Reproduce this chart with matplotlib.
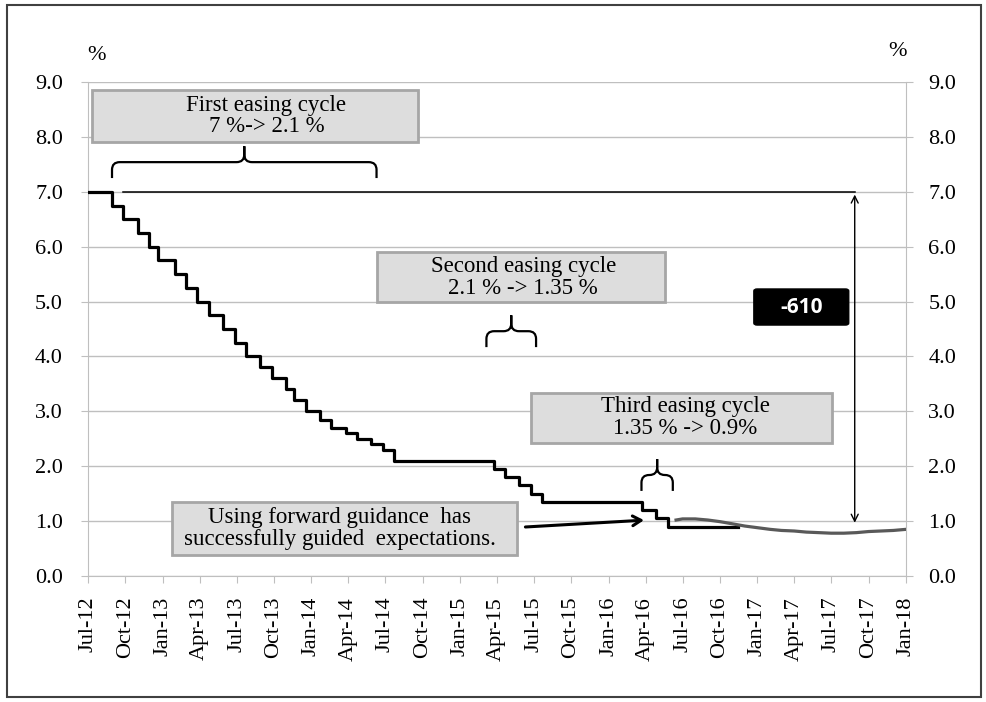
import matplotlib
matplotlib.use("Agg")
import matplotlib.pyplot as plt
import matplotlib.dates as mdates
from matplotlib.patches import Rectangle, FancyBboxPatch, PathPatch
from matplotlib.path import Path
import pandas as pd

# base rate decisions: date the new rate applies, rate in %
rate_dates = ["2012-07-01", "2012-08-29", "2012-09-26", "2012-10-31", "2012-11-28", "2012-12-19",
              "2013-01-30", "2013-02-27", "2013-03-27", "2013-04-24", "2013-05-29", "2013-06-26",
              "2013-07-24", "2013-08-28", "2013-09-25", "2013-10-30", "2013-11-20", "2013-12-18",
              "2014-01-22", "2014-02-19", "2014-03-26", "2014-04-23", "2014-05-28", "2014-06-25",
              "2014-07-23", "2015-03-25", "2015-04-22", "2015-05-27", "2015-06-24", "2015-07-22",
              "2016-03-23", "2016-04-27", "2016-05-25", "2016-11-15"]
base_rate = [7.0, 6.75, 6.5, 6.25, 6.0, 5.75,
             5.5, 5.25, 5.0, 4.75, 4.5, 4.25,
             4.0, 3.8, 3.6, 3.4, 3.2, 3.0,
             2.85, 2.7, 2.6, 2.5, 2.4, 2.3,
             2.1, 1.95, 1.8, 1.65, 1.5, 1.35,
             1.2, 1.05, 0.9, 0.9]

# market expectations (grey line)
exp_dates = ["2016-06-15", "2016-07-01", "2016-08-01", "2016-09-01", "2016-10-01", "2016-11-01",
             "2016-12-01", "2017-01-01", "2017-02-01", "2017-03-01", "2017-04-01", "2017-05-01",
             "2017-06-01", "2017-07-01", "2017-08-01", "2017-09-01", "2017-10-01", "2017-11-01",
             "2017-12-01", "2018-01-01"]
exp_rate = [1.02, 1.04, 1.04, 1.02, 0.99, 0.95,
            0.91, 0.88, 0.85, 0.83, 0.82, 0.80,
            0.79, 0.78, 0.78, 0.79, 0.81, 0.82,
            0.83, 0.85]

start_level = 7.0
end_level = 0.92
ref_start, ref_end = "2012-09-25", "2017-08-28"

y_ticks = [0, 1, 2, 3, 4, 5, 6, 7, 8, 9]

serif = "Liberation Serif"
plt.rcParams["font.family"] = serif
grid_c = "#bfbfbf"


def d(s):
    return mdates.date2num(pd.Timestamp(s))


def brace(ax, x0, x1, y_bar, h=0.29, rx=19, ry=0.14):
    # brace opening downward, cusp at the middle pointing up
    x0, x1 = d(x0), d(x1)
    xm = (x0 + x1) / 2
    verts, codes = [], []
    for xe, sgn in ((x0, 1), (x1, -1)):
        verts += [(xe, y_bar - h), (xe, y_bar - ry), (xe, y_bar), (xe + sgn * rx, y_bar),
                  (xm - sgn * rx, y_bar), (xm, y_bar), (xm, y_bar + ry), (xm, y_bar + h)]
        codes += [Path.MOVETO, Path.LINETO, Path.CURVE3, Path.CURVE3,
                  Path.LINETO, Path.CURVE3, Path.CURVE3, Path.LINETO]
    ax.add_patch(PathPatch(Path(verts, codes), fill=False, ec="black", lw=1.6,
                           clip_on=False, zorder=5))


def note(ax, x0, y0, x1, y1, tx, ty, s):
    ax.add_patch(Rectangle((x0, y0), x1 - x0, y1 - y0, transform=ax.transAxes,
                           fc="#dddddd", ec="#a6a6a6", lw=2, clip_on=False, zorder=6))
    ax.text(tx, ty, s, transform=ax.transAxes, ha="center", va="center",
            fontsize=16.5, linespacing=1.05, zorder=7)


fig = plt.figure(figsize=(9.87, 7.02), dpi=100)
ax = fig.add_axes([88 / 987, 1 - 576 / 702, 818 / 987, 494 / 702])

ax.step(pd.to_datetime(rate_dates), base_rate, where="post", color="black", lw=2.3, zorder=4)
ax.plot(pd.to_datetime(exp_dates), exp_rate, color="#595959", lw=2.3, zorder=4)
ax.plot(pd.to_datetime([ref_start, ref_end]), [start_level, start_level], color="black", lw=1.1, zorder=4)

ax.set_xlim(d("2012-07-01"), d("2018-01-01"))
ax.set_ylim(0, 9)
ax.set_yticks(y_ticks)
ax.yaxis.set_major_formatter(plt.FormatStrFormatter("%.1f"))
ax.xaxis.set_major_locator(mdates.MonthLocator(bymonth=[1, 4, 7, 10]))
ax.xaxis.set_major_formatter(mdates.DateFormatter("%b-%y"))
ax.tick_params(axis="x", rotation=90, labelsize=16, length=5, pad=10, color=grid_c)
ax.tick_params(axis="y", labelsize=16, length=5, pad=13, color=grid_c)
ax.yaxis.grid(True, color=grid_c, lw=1)
ax.set_axisbelow(True)
for side in ["left", "right", "bottom"]:
    ax.spines[side].set_color(grid_c)
ax.spines["top"].set_visible(False)

ax2 = ax.twinx()
ax2.set_ylim(0, 9)
ax2.set_yticks(y_ticks)
ax2.yaxis.set_major_formatter(plt.FormatStrFormatter("%.1f"))
ax2.tick_params(axis="y", labelsize=16, length=5, pad=11, color=grid_c)
for side in ["left", "right", "bottom", "top"]:
    ax2.spines[side].set_visible(False)

fig.text(97 / 987, 1 - 55 / 702, "%", fontsize=16, ha="center", va="center")
fig.text(898 / 987, 1 - 52 / 702, "%", fontsize=16, ha="center", va="center")

# braces over each easing cycle
brace(ax, "2012-08-29", "2014-06-10", 7.54)
brace(ax, "2015-03-07", "2015-07-07", 4.46)
brace(ax, "2016-03-22", "2016-06-07", 1.84)

# annotation boxes
note(ax, 0.005, 0.879, 0.403, 0.984, 0.218, 0.931, "First easing cycle\n7 %-> 2.1 %")
note(ax, 0.353, 0.555, 0.705, 0.656, 0.532, 0.605, "Second easing cycle\n2.1 % -> 1.35 %")
note(ax, 0.542, 0.269, 0.910, 0.370, 0.730, 0.321, "Third easing cycle\n1.35 % -> 0.9%")
note(ax, 0.103, 0.043, 0.524, 0.150, 0.308, 0.096,
     "Using forward guidance  has\nsuccessfully guided  expectations.")

ax.annotate("", xy=(d("2016-04-04"), 1.02), xytext=(d("2015-06-04"), 0.89),
            arrowprops=dict(arrowstyle="->,head_length=0.6,head_width=0.35", color="black", lw=2.2),
            zorder=6)

# total change arrow and label
ax.annotate("", xy=(d(ref_end), end_level), xytext=(d(ref_end), start_level),
            arrowprops=dict(arrowstyle="<->,head_length=0.5,head_width=0.25", color="black", lw=1),
            zorder=6)
ax.add_patch(FancyBboxPatch((0.814, 0.508), 0.116, 0.073, boxstyle="round,pad=0,rounding_size=0.004",
                            transform=ax.transAxes, fc="black", ec="black", clip_on=False, zorder=6))
ax.text(0.872, 0.544, "-610", transform=ax.transAxes, ha="center", va="center", color="white",
        fontsize=15, fontweight="bold", family="Open Sans", zorder=7)

# outer frame
fig.patches.append(Rectangle((7 / 987, 1 - 697 / 702), 974 / 987, 692 / 702, transform=fig.transFigure,
                             fill=False, ec="#404040", lw=1.5))

fig.savefig("out.png", dpi=100)
